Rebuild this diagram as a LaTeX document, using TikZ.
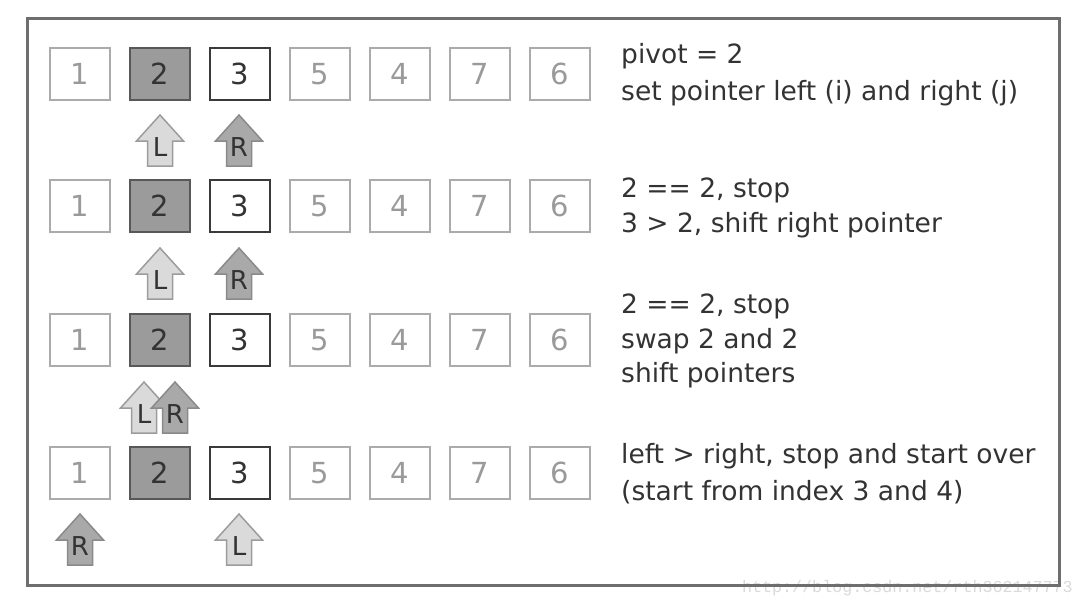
\documentclass[tikz,border=0pt]{standalone}
\usepackage{fontspec}
\setmainfont{DejaVu Sans}
\newfontfamily\wmfont{Liberation Mono}
\definecolor{framegray}{HTML}{6E6E6E}
\definecolor{lightline}{HTML}{ABABAB}
\definecolor{lighttext}{HTML}{9A9A9A}
\definecolor{darkline}{HTML}{3A3A3A}
\definecolor{pivotfill}{HTML}{9B9B9B}
\definecolor{darktext}{HTML}{333333}
\definecolor{lfill}{HTML}{DADADA}
\definecolor{lline}{HTML}{9C9C9C}
\definecolor{rfill}{HTML}{A9A9A9}
\definecolor{rline}{HTML}{8A8A8A}
\definecolor{wmgray}{HTML}{DADADA}
\newcommand\pointer[5]{%
  \draw[#4] (#2,#3) -- ++(23.5,26) -- ++(-11,0) -- ++(0,25) -- ++(-25,0) -- ++(0,-25) -- ++(-11,0) -- cycle;
  \node[ptrlabel] (#1) at (#2,#3+32) {#5};}
\begin{document}
\begin{tikzpicture}[x=1pt,y=-1pt,
  cell/.style={draw=lightline, line width=1.8pt, minimum width=60pt, minimum height=52pt,
    inner sep=0pt, text=lighttext, font=\fontsize{29}{30}\selectfont},
  pivotcell/.style={cell, fill=pivotfill, draw=darkline!85, text=darktext},
  curcell/.style={cell, fill=white, draw=darkline, text=darktext},
  lptr/.style={fill=lfill, draw=lline, line width=1.5pt, line join=miter},
  rptr/.style={fill=rfill, draw=rline, line width=1.5pt, line join=miter},
  ptrlabel/.style={inner sep=0pt, text=darktext, font=\fontsize{26}{26}\selectfont},
  note/.style={anchor=base west, inner sep=0pt, text=darktext, font=\fontsize{26.5}{30}\selectfont}]
\useasboundingbox (0,0) rectangle (1084,606);
\fill[white] (0,0) rectangle (1084,606);
% watermark
\node[anchor=base east, inner sep=0pt, text=wmgray, font=\wmfont\fontsize{16.7}{18}\selectfont] (wm) at (1073,592) {http://blog.csdn.net/rth362147773};
% frame
\draw[framegray, line width=3pt] (27,18) rectangle (1059,585);
% rows of cells
\foreach \r/\y in {1/74, 2/206, 3/340, 4/473} {
  \node[cell]      (c\r-1) at (80,\y)  {1};
  \node[pivotcell] (c\r-2) at (160,\y) {2};
  \node[curcell]   (c\r-3) at (240,\y) {3};
  \node[cell]      (c\r-4) at (320,\y) {5};
  \node[cell]      (c\r-5) at (400,\y) {4};
  \node[cell]      (c\r-6) at (480,\y) {7};
  \node[cell]      (c\r-7) at (560,\y) {6};
}
% pointers
\pointer{l1}{160}{115}{lptr}{L}
\pointer{r1}{239}{115}{rptr}{R}
\pointer{l2}{160}{248}{lptr}{L}
\pointer{r2}{239}{248}{rptr}{R}
\pointer{l3}{144}{382}{lptr}{L}
\pointer{r3}{175}{382}{rptr}{R}
\pointer{r4}{80}{514}{rptr}{R}
\pointer{l4}{239}{514}{lptr}{L}
% notes
\node[note] (t11) at (621,63)  {pivot = 2};
\node[note] (t12) at (621,100) {set pointer left (i) and right (j)};
\node[note] (t21) at (621,197) {2 == 2, stop};
\node[note] (t22) at (621,232) {3 > 2, shift right pointer};
\node[note] (t31) at (621,313) {2 == 2, stop};
\node[note] (t32) at (621,348) {swap 2 and 2};
\node[note] (t33) at (621,382) {shift pointers};
\node[note] (t41) at (621,463) {left > right, stop and start over};
\node[note] (t42) at (621,500) {(start from index 3 and 4)};
\end{tikzpicture}
\end{document}
